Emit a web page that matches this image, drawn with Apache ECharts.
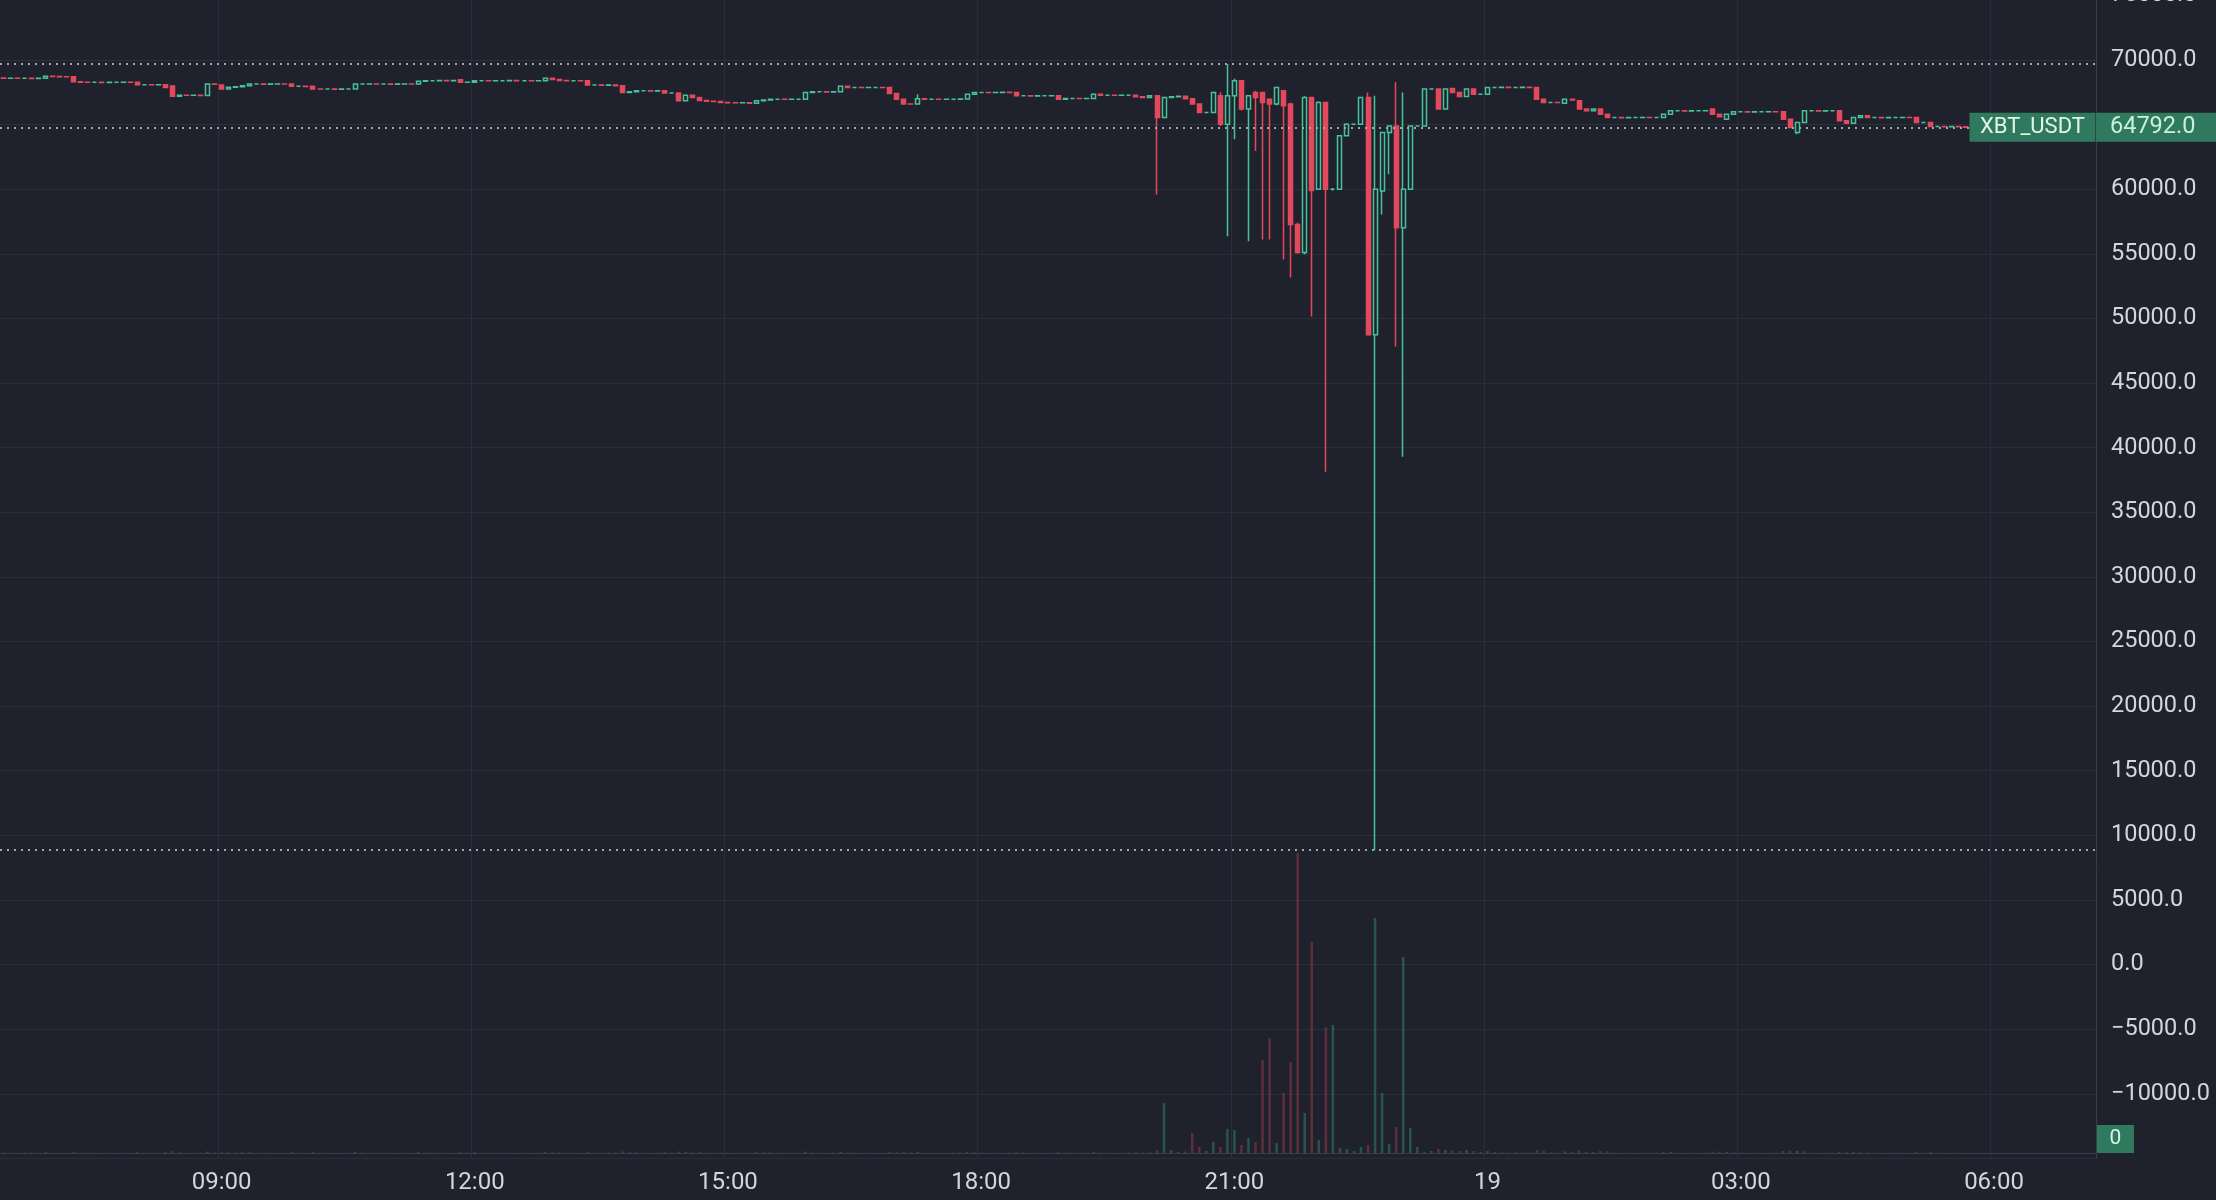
<!DOCTYPE html>
<html><head><meta charset="utf-8">
<script src="https://cdn.jsdelivr.net/npm/echarts@6/dist/echarts.min.js"></script>
<style>html,body{margin:0;padding:0;background:#1f222d;}#chart{width:2216px;height:1200px;}</style>
</head><body><div id="chart"></div>
<script>
// ---- time slots (5-minute candles, starting 18th 06:25) ----
const startMinute = 6 * 60 + 25;
const slotMinutes = 5;
const slotCount = 298;
const startDay = 18;
const tickLabels = ['09:00', '12:00', '15:00', '18:00', '21:00', '19', '03:00', '06:00'];

// ---- price axis ----
const priceMin = -15000, priceMax = 75000, priceStep = 5000;

// ---- candles: [open, close, low, high] ----
const candles = [
[68600,68580,68560,68620],[68580,68590,68560,68610],[68590,68580,68570,68600],[68580,68580,68560,68600],[68580,68570,68550,68600],[68570,68580,68560,68600],[68580,68740,68570,68760],[68740,68720,68700,68760],[68720,68710,68690,68740],[68710,68700,68690,68730],
[68700,68320,68300,68720],[68320,68280,68260,68340],[68280,68270,68250,68290],[68270,68270,68250,68290],[68270,68260,68240,68280],[68260,68270,68250,68290],[68270,68270,68250,68290],[68270,68280,68260,68300],[68280,68270,68250,68290],[68270,68090,68070,68290],
[68090,68090,68070,68110],[68090,68080,68060,68100],[68080,68090,68070,68110],[68090,67880,67860,68100],[67990,67200,67180,68010],[67200,67280,67180,67300],[67280,67270,67250,67300],[67270,67280,67250,67300],[67280,67260,67240,67290],[67260,68140,67240,68160],
[68140,68120,68100,68160],[68060,67760,67740,68080],[67760,67900,67740,67920],[67900,67930,67890,67950],[67930,68000,67920,68020],[68000,68140,67990,68160],[68140,68140,68120,68160],[68140,68130,68110,68150],[68130,68140,68120,68160],[68140,68150,68130,68170],
[68150,68140,68120,68160],[68140,67960,67940,68160],[67960,67960,67940,67980],[67960,67950,67930,67970],[67960,67760,67740,67980],[67760,67750,67730,67770],[67750,67750,67730,67770],[67750,67740,67720,67760],[67740,67750,67730,67770],[67750,67750,67730,67770],
[67750,68140,67740,68160],[68140,68140,68120,68160],[68140,68150,68130,68170],[68150,68140,68120,68160],[68140,68140,68120,68160],[68140,68130,68110,68150],[68130,68140,68120,68160],[68140,68150,68130,68170],[68150,68140,68120,68160],[68140,68350,68130,68370],
[68350,68400,68340,68420],[68400,68400,68380,68420],[68400,68410,68390,68430],[68410,68400,68380,68420],[68400,68410,68390,68430],[68470,68270,68250,68490],[68270,68280,68260,68300],[68280,68400,68270,68420],[68400,68400,68380,68420],[68400,68390,68370,68410],
[68390,68400,68380,68420],[68400,68400,68380,68420],[68400,68410,68390,68430],[68410,68400,68380,68420],[68400,68400,68380,68420],[68400,68390,68370,68410],[68390,68400,68380,68420],[68400,68580,68390,68600],[68580,68500,68480,68600],[68500,68420,68400,68520],
[68420,68400,68380,68440],[68400,68400,68380,68420],[68400,68390,68370,68410],[68390,68060,68040,68410],[68060,68060,68040,68080],[68060,68050,68030,68070],[68050,68060,68040,68080],[68060,68010,67990,68080],[68010,67490,67470,68030],[67490,67540,67470,67560],
[67540,67620,67530,67640],[67620,67620,67600,67640],[67620,67610,67590,67630],[67610,67620,67600,67640],[67620,67440,67420,67640],[67440,67440,67420,67460],[67440,66840,66820,67460],[66840,67280,66820,67300],[67280,67100,67080,67300],[67100,66860,66840,67120],
[66860,66800,66780,66880],[66800,66790,66770,66820],[66790,66720,66700,66810],[66720,66700,66680,66740],[66700,66690,66670,66720],[66690,66700,66680,66720],[66700,66660,66640,66720],[66660,66840,66650,66860],[66840,66900,66830,66920],[66900,66970,66890,66990],
[66970,66970,66950,66990],[66970,66960,66940,66980],[66960,66970,66950,66990],[66970,66970,66950,66990],[66970,67490,66960,67510],[67490,67540,67480,67560],[67540,67540,67520,67560],[67540,67530,67510,67550],[67530,67540,67520,67560],[67540,67960,67530,67980],
[67960,67880,67860,67980],[67880,67880,67860,67900],[67880,67870,67850,67890],[67870,67880,67860,67900],[67880,67880,67860,67900],[67880,67870,67850,67890],[67870,67400,67380,67890],[67400,66970,66950,67420],[66970,66600,66580,66990],[66600,66590,66560,66620],
[66590,67000,66580,67360],[67000,66970,66950,67020],[66970,66970,66950,66990],[66970,66960,66940,66980],[66960,66970,66950,66990],[66970,66970,66950,66990],[66970,66980,66960,67000],[66980,67360,66970,67380],[67360,67490,67350,67510],[67490,67490,67470,67510],
[67490,67480,67460,67500],[67480,67490,67470,67510],[67490,67500,67480,67520],[67500,67490,67470,67510],[67490,67230,67210,67510],[67230,67230,67210,67250],[67230,67220,67200,67240],[67220,67230,67210,67250],[67230,67230,67210,67250],[67230,67240,67220,67260],
[67240,66970,66950,67260],[66970,67030,66950,67050],[67030,67030,67010,67050],[67030,67020,67000,67040],[67020,67030,67010,67050],[67030,67360,67010,67380],[67360,67280,67260,67380],[67280,67280,67260,67300],[67280,67270,67250,67290],[67270,67280,67260,67300],
[67280,67280,67260,67300],[67280,67150,67130,67300],[67150,67100,67080,67170],[67100,67230,67080,67250],[67230,65550,59600,67250],[65550,67100,65500,67150],[67100,67150,67080,67170],[67150,67200,67130,67220],[67200,67000,66980,67220],[67000,66590,66570,67020],
[66590,65940,65920,66610],[65940,65940,65920,65960],[65940,67490,65920,67510],[67230,65030,64900,67500],[65030,67230,56370,69690],[67230,68400,63870,68550],[68400,66200,66100,68450],[66200,67230,55980,67300],[67490,67100,62960,67620],[67490,66720,56110,67520],
[66970,66590,56110,67000],[66590,67880,66500,67900],[67620,66460,54560,67650],[66590,57270,53160,66700],[57270,55100,55000,57400],[55100,67100,54950,67200],[67100,59900,50160,67150],[60000,66720,59950,66800],[66720,60000,38130,66750],[60000,60000,59900,60100],
[60000,64130,59950,64200],[64130,65030,64100,65100],[65030,65030,64990,65070],[65030,67100,65000,67150],[67100,48740,48700,67490],[48740,60000,8850,67230],[59860,64390,58050,64450],[64390,64900,61150,64950],[64900,57020,47830,68270],[57020,60000,39300,67490],
[60000,64900,59950,64950],[64900,64900,64860,64940],[64900,67750,64880,67800],[67750,67750,67720,67780],[67750,66200,66150,67800],[66200,67750,66150,67800],[67800,67490,67470,67820],[67490,67180,67160,67510],[67180,67750,67160,67770],[67750,67360,67340,67770],
[67360,67360,67340,67380],[67360,67880,67340,67900],[67880,67880,67860,67900],[67880,67890,67870,67910],[67890,67880,67860,67900],[67880,67880,67860,67900],[67880,67890,67870,67910],[67890,67880,67860,67900],[67880,66970,66950,67900],[66970,66720,66700,66990],
[66720,66720,66700,66740],[66720,66710,66690,66730],[66660,66970,66640,66990],[66970,66900,66880,66990],[66840,66200,66180,66860],[66200,66070,66050,66220],[66070,66200,66050,66220],[66200,65800,65780,66220],[65800,65550,65530,65820],[65550,65550,65530,65570],
[65550,65540,65520,65560],[65540,65550,65530,65570],[65550,65550,65530,65570],[65550,65560,65540,65580],[65560,65550,65530,65570],[65550,65550,65530,65570],[65550,65810,65530,65830],[65810,66070,65790,66090],[66070,66070,66050,66090],[66070,66060,66040,66080],
[66060,66070,66050,66090],[66070,66070,66050,66090],[66070,66080,66060,66100],[66200,65810,65790,66220],[65810,65600,65580,65830],[65420,65810,65400,65830],[65810,65990,65790,66010],[65990,65990,65970,66010],[65990,65980,65960,66000],[65980,65990,65970,66010],
[65990,65990,65970,66010],[65990,66000,65980,66020],[66000,65990,65970,66010],[65990,65420,65400,66010],[65420,64780,64760,65440],[64390,65170,64260,65190],[65170,66070,65150,66090],[66070,66070,66050,66090],[66070,66060,66040,66080],[66060,66070,66050,66090],
[66070,66070,66050,66090],[66070,65290,65270,66090],[65290,65100,65080,65310],[65100,65550,65080,65570],[65550,65680,65530,65700],[65680,65550,65530,65700],[65550,65550,65530,65570],[65550,65540,65520,65560],[65540,65550,65530,65570],[65550,65550,65530,65570],
[65550,65560,65540,65580],[65560,65550,65530,65570],[65550,65170,65150,65570],[65170,65170,65150,65190],[65170,64850,64830,65190],[64850,64850,64830,64870],[64850,64840,64820,64860],[64840,64850,64830,64870],[64850,64830,64810,64870],[64830,64792,64780,64850]
];

// ---- volume per candle ----
const volumes = [
5,3,2,4,3,2,8,3,2,3,10,4,2,3,2,3,2,3,2,8,
3,2,3,9,18,5,3,2,3,14,4,9,5,4,6,7,3,2,3,2,
3,8,3,2,8,3,2,3,2,3,12,4,2,3,2,3,2,3,3,8,
4,3,2,3,2,9,3,7,3,2,3,2,3,2,3,2,3,9,6,6,
3,3,2,10,3,2,3,6,16,6,5,3,2,4,8,3,14,12,6,9,
5,3,5,3,2,3,4,7,5,5,3,2,3,2,14,4,3,2,3,12,
5,3,2,3,2,3,12,12,9,4,12,3,2,3,2,3,4,9,6,3,
2,3,2,3,8,3,2,3,2,3,8,4,3,2,3,9,5,3,2,3,
3,6,4,5,30,500,30,10,15,200,60,20,110,60,240,230,80,150,110,930,
1150,100,600,910,3000,400,2110,130,1260,1280,50,40,20,60,80,2350,600,90,260,1960,
250,60,10,20,40,30,25,20,30,20,10,20,8,5,5,4,5,5,30,20,
5,4,15,10,25,12,8,20,15,4,3,3,2,3,3,3,8,10,3,2,
3,2,3,15,12,10,5,3,2,3,2,3,3,20,25,20,15,3,2,3,
2,12,8,8,5,5,3,2,3,2,3,2,10,3,9,3,2,2,3,2
];
const volumeMax = 3000;

// ---- reference lines ----
const highLine = 69690;
const lastPrice = 64792;
const lowLine = 8850;
const symbolName = 'XBT_USDT';
const lastVolumeLabel = '0';

// ---- styles ----
const bg = '#1f222d';
const upColor = '#45c29a';
const downColor = '#e3485c';
const gridColor = '#2a2e3a';
const axisLineColor = '#3a3e4a';
const textColor = '#d3d6dd';
const font = 'Roboto';

const categories = [];
for (let i = 0; i < slotCount; i++) {
  const t = startMinute + i * slotMinutes;
  const day = startDay + Math.floor(t / 1440);
  const hh = Math.floor((t % 1440) / 60);
  const mm = t % 60;
  categories.push(day + ' ' + String(hh).padStart(2, '0') + ':' + String(mm).padStart(2, '0'));
}
function tickText(cat) {
  const parts = cat.split(' ');
  return parts[1] === '00:00' ? parts[0] : parts[1];
}
function isTick(idx, cat) {
  const p = cat.split(' ')[1];
  const m = +p.slice(3);
  const h = +p.slice(0, 2);
  return m === 0 && h % 3 === 0 && tickLabels.indexOf(tickText(cat)) >= 0;
}

const volumeData = volumes.map((v, i) => {
  const c = candles[i];
  const up = c[1] >= c[0];
  return { value: v, itemStyle: { color: up ? 'rgba(69,194,154,0.30)' : 'rgba(227,72,92,0.32)' } };
});

const chart = echarts.init(document.getElementById('chart'), null, { renderer: 'canvas' });
chart.setOption({
  backgroundColor: bg,
  animation: false,
  grid: [
    { left: 0, right: 120, top: -4.6, height: 1163, outerBoundsMode: 'none', containLabel: false },
    { left: 0, right: 120, bottom: 47, height: 300, outerBoundsMode: 'none', containLabel: false }
  ],
  xAxis: [
    {
      type: 'category', gridIndex: 0, data: categories, boundaryGap: true,
      axisLine: { show: false }, axisTick: { show: false }, axisLabel: { show: false },
      splitLine: { show: true, interval: isTick, lineStyle: { color: gridColor, width: 1 } }
    },
    {
      type: 'category', gridIndex: 1, data: categories, boundaryGap: true,
      axisLine: { show: true, lineStyle: { color: axisLineColor, width: 1 } },
      axisTick: { show: false },
      axisLabel: { show: true, interval: isTick, formatter: tickText, color: textColor, fontSize: 24, fontFamily: font, margin: 18 },
      splitLine: { show: false }
    }
  ],
  yAxis: [
    {
      type: 'value', gridIndex: 0, position: 'right', min: priceMin, max: priceMax, interval: priceStep,
      axisLine: { show: true, lineStyle: { color: axisLineColor, width: 1 } },
      axisTick: { show: false },
      axisLabel: {
        show: true, inside: false, margin: 15, color: textColor, fontSize: 23.5, fontFamily: font,
        showMinLabel: false, showMaxLabel: true,
        formatter: v => (v < 0 ? '\u2212' + Math.abs(v).toFixed(1) : v.toFixed(1))
      },
      splitLine: { show: true, lineStyle: { color: gridColor, width: 1 } }
    },
    {
      type: 'value', gridIndex: 1, min: 0, max: volumeMax,
      show: false, axisLine: { show: false }, axisLabel: { show: false }, splitLine: { show: false }
    }
  ],
  series: [
    {
      name: 'volume', type: 'bar', xAxisIndex: 1, yAxisIndex: 1,
      data: volumeData, barWidth: 2.5, z: 1, silent: true,
      markPoint: {
        silent: true,
        data: [{
          coord: [slotCount - 1, 0], symbol: 'rect', symbolSize: [37, 28], symbolOffset: [23, -14],
          itemStyle: { color: '#2f7a5e' },
          label: { show: true, formatter: lastVolumeLabel, color: '#d8f3e6', fontSize: 21, fontFamily: font, position: 'inside' }
        }]
      }
    },
    {
      name: symbolName, type: 'candlestick', xAxisIndex: 0, yAxisIndex: 0,
      data: candles, barWidth: 4.5, z: 3,
      itemStyle: { color: bg, color0: downColor, borderColor: upColor, borderColor0: downColor, borderWidth: 1.5 },
      markLine: {
        silent: true, symbol: ['none', 'none'],
        lineStyle: { type: [2, 5], color: '#a0a6b2', width: 1.8 },
        label: { show: false },
        data: [
          { yAxis: highLine },
          { yAxis: lowLine },
          {
            yAxis: lastPrice,
            label: {
              show: true, position: 'end', distance: 0, formatter: lastPrice.toFixed(1),
              backgroundColor: '#2f7a5e', color: '#c8f0dc', fontSize: 23.5, fontFamily: font,
              padding: [3, 26, 2, 14]
            }
          }
        ]
      },
      markPoint: {
        silent: true,
        data: [{
          coord: [slotCount - 1, lastPrice], symbol: 'rect', symbolSize: [126, 29], symbolOffset: [-60, 0],
          itemStyle: { color: '#2f7a5e' },
          label: { show: true, formatter: symbolName, color: '#e2f4ea', fontSize: 22, fontFamily: font, position: 'inside' }
        }]
      }
    }
  ]
});
</script>
</body></html>
